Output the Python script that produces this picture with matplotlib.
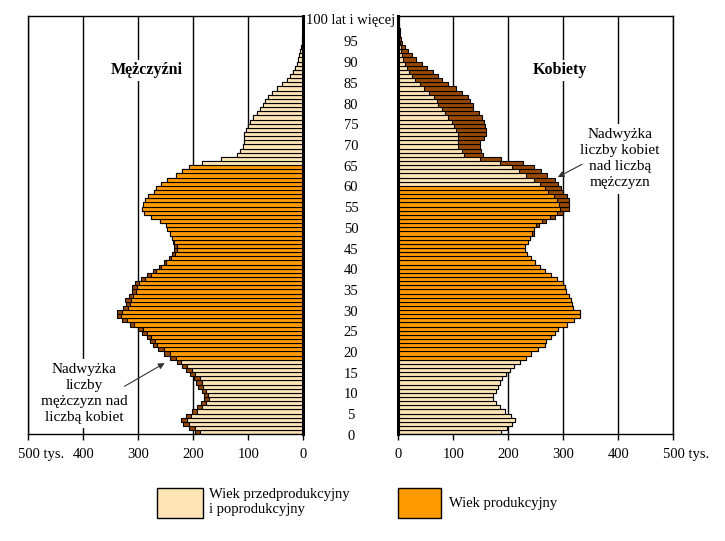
import matplotlib.pyplot as plt
import matplotlib.transforms as mtransforms
from matplotlib.patches import Rectangle

plt.rcParams['font.family'] = ['Liberation Serif', 'DejaVu Serif']

# wiek 0..99, ostatni = 100 lat i więcej
ages = list(range(101))

men = [197, 207, 218, 222, 213, 202, 193, 186, 181, 181,
       185, 191, 195, 199, 206, 213, 221, 229, 242, 253,
       264, 274, 279, 284, 293, 300, 315, 330, 339, 339,
       327, 322, 325, 317, 311, 311, 306, 295, 285, 274,
       263, 254, 245, 238, 235, 235, 236, 239, 243, 247,
       250, 261, 276, 289, 294, 292, 288, 283, 272, 267,
       258, 247, 232, 220, 207, 185, 149, 120, 115, 109,
       108, 108, 108, 104, 101, 97, 91, 85, 79, 73,
       70, 64, 56, 47, 39, 30, 24, 19, 15, 12,
       9, 7, 5.5, 4, 3, 2, 1.2, 0.8, 0.5, 0.3,
       0.5]

women = [187, 197, 207, 212, 205, 194, 184, 177, 172, 173,
         177, 182, 185, 188, 196, 203, 211, 222, 232, 242,
         254, 266, 269, 277, 284, 291, 307, 320, 331, 330,
         318, 315, 314, 310, 304, 303, 299, 288, 277, 267,
         258, 249, 241, 234, 230, 230, 235, 239, 246, 247,
         255, 269, 285, 300, 310, 311, 311, 306, 300, 296,
         291, 284, 271, 260, 247, 227, 186, 154, 151, 149,
         149, 155, 160, 159, 157, 155, 153, 146, 136, 135,
         131, 127, 116, 104, 90, 80, 72, 63, 53, 43,
         33, 25, 18, 12, 7, 5.5, 3.5, 2.2, 1.4, 0.9,
         2]

age_ticks = list(range(0, 100, 5))
x_ticks = [0, 100, 200, 300, 400, 500]
x_labels = ['0', '100', '200', '300', '400', '500 tys.']

light = '#FFE4B5'
orange = '#FF9900'
brown = '#984806'

common = [min(m, w) for m, w in zip(men, women)]
men_cols = [orange if 18 <= a <= 64 else light for a in ages]
women_cols = [orange if 18 <= a <= 59 else light for a in ages]

fig = plt.figure(figsize=(7.25, 5.41), dpi=100)
ax_m = fig.add_axes([0.0390, 0.1972, 0.3793, 0.7732])
ax_f = fig.add_axes([0.5494, 0.1972, 0.3793, 0.7732])

ax_m.barh(ages, men, height=1, color=brown, edgecolor='black', lw=0.8)
ax_m.barh(ages, common, height=1, color=men_cols, edgecolor='black', lw=0.8)
ax_f.barh(ages, women, height=1, color=brown, edgecolor='black', lw=0.8)
ax_f.barh(ages, common, height=1, color=women_cols, edgecolor='black', lw=0.8)

ax_m.set_xlim(500, 0)
ax_f.set_xlim(0, 500)
for ax in (ax_m, ax_f):
    ax.set_ylim(-0.5, 100.5)
    ax.set_yticks([])
    ax.set_xticks(x_ticks)
    ax.set_xticklabels(x_labels)
    ax.tick_params(axis='x', direction='out', length=4, width=1, pad=5.5,
                   labelsize=10.5)
    ax.grid(axis='x', color='black', lw=1)
    ax.set_axisbelow(True)
    for s in ax.spines.values():
        s.set_color('black')
        s.set_linewidth(1)
    # "500" nad kreską, "tys." obok
    lab = ax.xaxis.get_major_ticks()[-1].label1
    lab.set_horizontalalignment('left')
    lab.set_transform(lab.get_transform() +
                      mtransforms.ScaledTranslation(-10 / 100, 0, fig.dpi_scale_trans))
ax_m.spines['right'].set_linewidth(2.2)
ax_f.spines['left'].set_linewidth(2.2)

# etykiety wieku pośrodku
tr = mtransforms.blended_transform_factory(fig.transFigure, ax_f.transData)
for a in age_ticks:
    fig.text(0.4841, a - 1, str(a), transform=tr, ha='center', va='center',
             fontsize=10.5)
fig.text(0.4841, 99.4, '100 lat i więcej', transform=tr, ha='center',
         va='center', fontsize=10.5)

box = dict(fc='white', ec='none', pad=2)
ax_m.text(284, 87.4, 'Mężczyźni', ha='center', va='center', fontsize=11.5,
          fontweight='bold', bbox=box)
ax_f.text(294, 87.4, 'Kobiety', ha='center', va='center', fontsize=11.5,
          fontweight='bold', bbox=box)

ax_m.text(398, 9.4, 'Nadwyżka\nliczby\nmężczyzn nad\nliczbą kobiet',
          ha='center', va='center', fontsize=11, linespacing=1.3,
          bbox=dict(fc='white', ec='none', pad=3))
ax_m.annotate('', xy=(252, 16.7), xytext=(325, 11.1),
              arrowprops=dict(arrowstyle='-|>', color='#333333', lw=0.8,
                              mutation_scale=9, shrinkA=0, shrinkB=0))

ax_f.text(403, 66.0, 'Nadwyżka\nliczby kobiet\nnad liczbą\nmężczyzn',
          ha='center', va='center', fontsize=11, linespacing=1.3,
          bbox=dict(fc='white', ec='none', pad=3))
ax_f.annotate('', xy=(290, 61.6), xytext=(334, 64.7),
              arrowprops=dict(arrowstyle='-|>', color='#333333', lw=0.8,
                              mutation_scale=9, shrinkA=0, shrinkB=0))

# legenda
W, H = 725.0, 541.0
fig.add_artist(Rectangle((157 / W, 1 - 518 / H), 46 / W, 30 / H,
                         transform=fig.transFigure, fc=light, ec='black', lw=1))
fig.add_artist(Rectangle((398 / W, 1 - 518 / H), 43 / W, 30 / H,
                         transform=fig.transFigure, fc=orange, ec='black', lw=1))
fig.text(209 / W, 1 - 502 / H, 'Wiek przedprodukcyjny\ni poprodukcyjny',
         ha='left', va='center', fontsize=10.5, linespacing=1.25)
fig.text(449 / W, 1 - 503 / H, 'Wiek produkcyjny', ha='left', va='center',
         fontsize=10.5)

fig.savefig('out.png', dpi=100)
